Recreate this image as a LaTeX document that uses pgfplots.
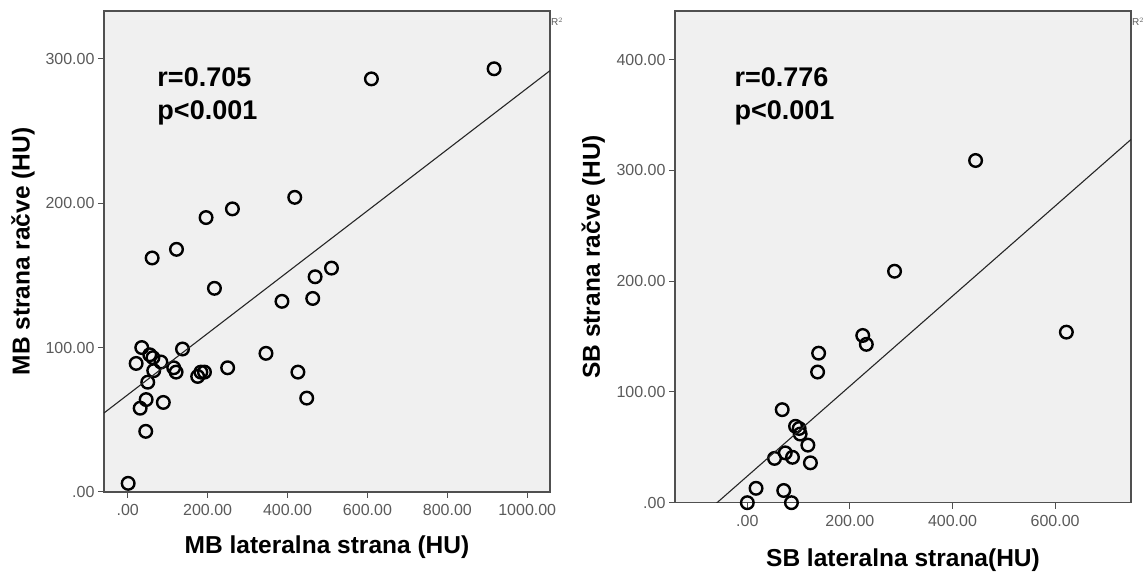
\documentclass[border=0pt]{standalone}
\usepackage{fontspec}
\setmainfont{Liberation Sans}
\usepackage{pgfplots}
\pgfplotsset{compat=1.18}

\definecolor{panel}{HTML}{F0F0F0}
\definecolor{frame}{HTML}{505050}
\definecolor{ticktext}{HTML}{5A5A5A}

\pgfplotsset{
  spss/.style={
    scale only axis,
    axis background/.style={fill=panel},
    axis line style={draw=frame, line width=1.3pt},
    tick style={draw=frame, line width=1pt},
    tick align=outside,
    major tick length=6pt,
    xtick pos=bottom, ytick pos=left,
    ticklabel style={font=\fontsize{16}{18}\selectfont, text=ticktext},
    xticklabel style={yshift=-3pt},
    label style={font=\fontsize{24.5}{28}\selectfont\bfseries},
    clip mode=individual,
  },
  pts/.style={only marks, mark=o, mark size=6.3pt,
    mark options={line width=2.4pt, draw=black}},
  fit/.style={no marks, line width=1.1pt, draw=black!85},
}

\begin{document}
\begin{tikzpicture}
\useasboundingbox (0,0) rectangle (1143pt,575pt);

% left panel: MB
\begin{axis}[spss,
  at={(104pt,83pt)}, anchor=south west,
  width=446pt, height=481pt,
  xmin=-59.5, xmax=1057, ymin=0, ymax=333,
  xtick={0,200,400,600,800,1000},
  xticklabels={.00,200.00,400.00,600.00,800.00,1000.00},
  ytick={0,100,200,300},
  yticklabels={.00,100.00,200.00,300.00},
  xlabel={MB lateralna strana (HU)},
  ylabel={MB strana račve (HU)},
  xlabel style={at={(axis description cs:0.5,-0.114)}, anchor=center},
  ylabel style={at={(axis description cs:-0.1816,0.5)}, anchor=center},
]
\addplot[pts] coordinates {
  (610,286) (917,293) (418,204) (262,196) (196,190) (122,168) (61,162)
  (510,155) (469,149) (217,141) (386,132) (463,134) (35,100) (137,99)
  (346,96) (55,95) (63,93) (21,89) (83,90) (115,86) (121,83) (65,84)
  (250,86) (175,80) (183,83) (192,83) (426,83) (50,76) (46,64) (31,58)
  (89,62) (448,65) (45,42) (1,6)
};
\addplot[fit] coordinates {(-59.5,54.7) (1057,291.7)};
\node[anchor=west, font=\fontsize{27}{32}\selectfont\bfseries]
  at (axis description cs:0.112,0.863) {r=0.705};
\node[anchor=west, font=\fontsize{27}{32}\selectfont\bfseries]
  at (axis description cs:0.112,0.788) {p<0.001};
\node[anchor=west, inner sep=1pt, font=\fontsize{10}{12}\selectfont, text=ticktext]
  at (axis description cs:1,0.978) {R$^2$};
\end{axis}

% right panel: SB
\begin{axis}[spss,
  at={(675pt,72.3pt)}, anchor=south west,
  width=456pt, height=491.7pt,
  xmin=-141, xmax=748, ymin=0, ymax=444,
  xtick={0,200,400,600},
  xticklabels={.00,200.00,400.00,600.00},
  ytick={0,100,200,300,400},
  yticklabels={.00,100.00,200.00,300.00,400.00},
  xlabel={SB lateralna strana(HU)},
  ylabel={SB strana račve (HU)},
  xlabel style={at={(axis description cs:0.5,-0.1165)}, anchor=center},
  ylabel style={at={(axis description cs:-0.179,0.5)}, anchor=center},
]
\addplot[pts] coordinates {
  (445,309) (287,209) (225,151) (232,143) (622,154) (139,135) (137,118)
  (68,84) (94,69) (101,67) (103,62) (118,52) (123,36) (53,40) (74,45)
  (88,41) (17,13) (71,11) (0,0) (86,0)
};
\addplot[fit] coordinates {(-141,-33.3) (748,328)};
\node[anchor=west, font=\fontsize{27}{32}\selectfont\bfseries]
  at (axis description cs:0.123,0.866) {r=0.776};
\node[anchor=west, font=\fontsize{27}{32}\selectfont\bfseries]
  at (axis description cs:0.123,0.793) {p<0.001};
\node[anchor=west, inner sep=1pt, font=\fontsize{10}{12}\selectfont, text=ticktext]
  at (axis description cs:1,0.978) {R$^2$};
\end{axis}
\end{tikzpicture}
\end{document}
